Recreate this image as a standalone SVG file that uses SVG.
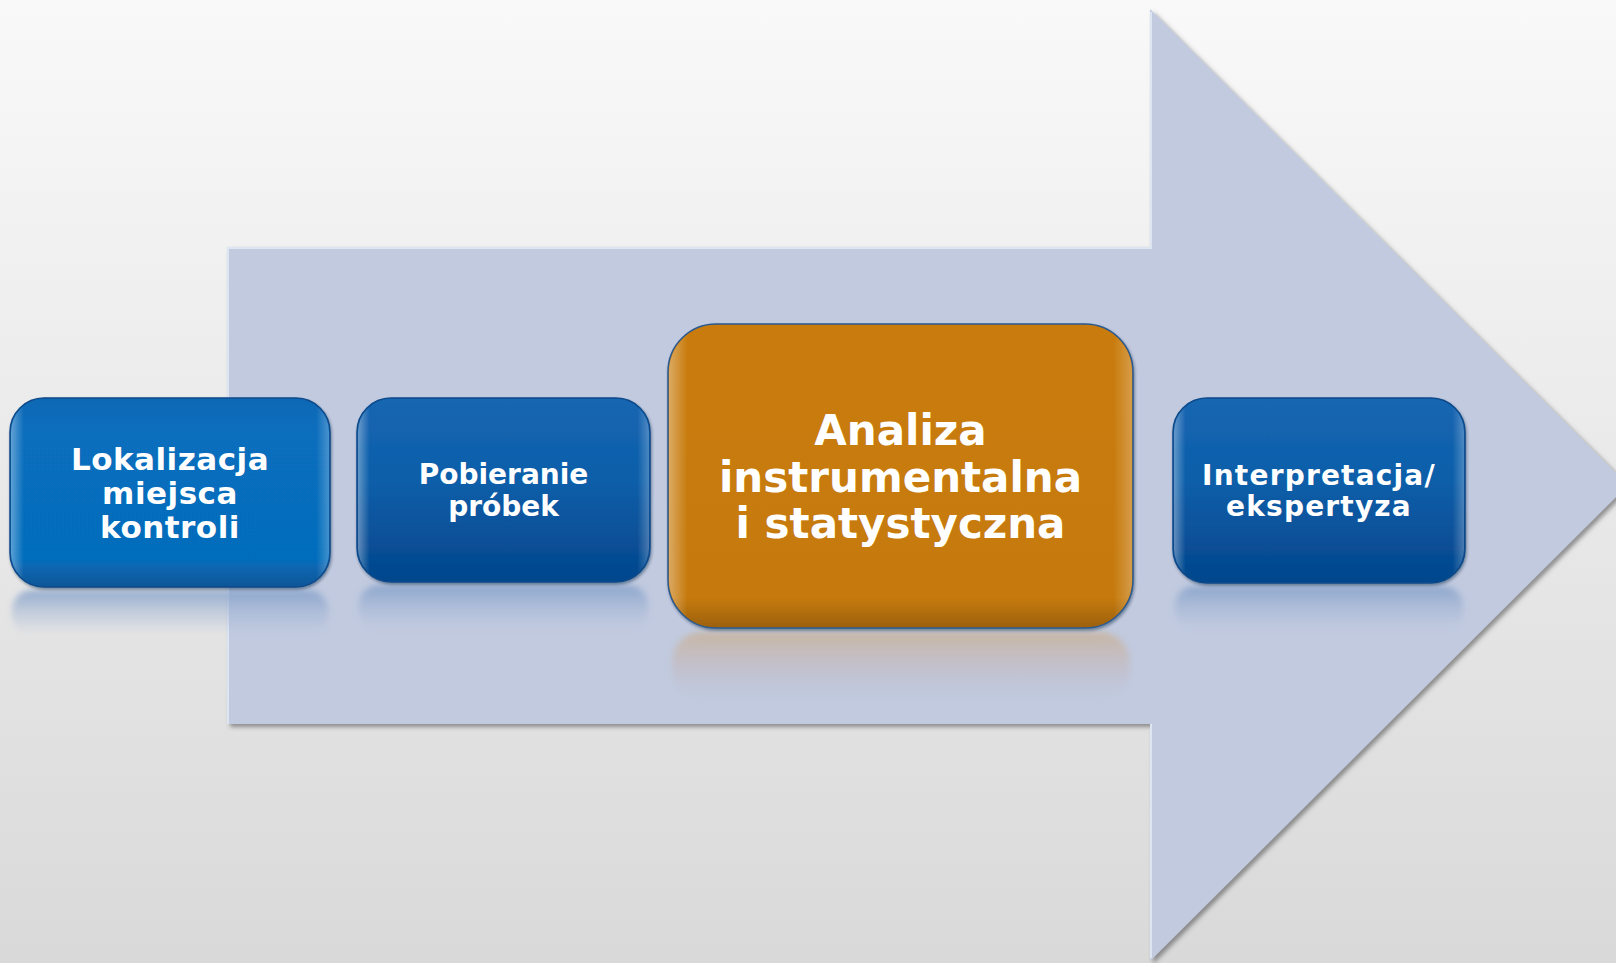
<svg xmlns="http://www.w3.org/2000/svg" width="1616" height="963" viewBox="0 0 1616 963">
  <defs>
    <linearGradient id="bg" x1="0" y1="0" x2="0" y2="1">
      <stop offset="0" stop-color="#f9f9f9"/>
      <stop offset="1" stop-color="#d9d9d9"/>
    </linearGradient>
    <linearGradient id="blueA" x1="0" y1="0" x2="0" y2="1">
      <stop offset="0" stop-color="#0a68b4"/>
      <stop offset="0.15" stop-color="#076ebd"/>
      <stop offset="0.85" stop-color="#066dbc"/>
      <stop offset="1" stop-color="#0a5698"/>
    </linearGradient>
    <linearGradient id="blueB" x1="0" y1="0" x2="0" y2="1">
      <stop offset="0" stop-color="#1466b2"/>
      <stop offset="0.45" stop-color="#0f5ea9"/>
      <stop offset="1" stop-color="#03468c"/>
    </linearGradient>
    <linearGradient id="orange" x1="0" y1="0" x2="0" y2="1">
      <stop offset="0" stop-color="#c97b0a"/>
      <stop offset="0.9" stop-color="#c67a08"/>
      <stop offset="1" stop-color="#9c6008"/>
    </linearGradient>
    <linearGradient id="sideHi" x1="0" y1="0" x2="1" y2="0">
      <stop offset="0" stop-color="#ffffff" stop-opacity="0.35"/>
      <stop offset="0.04" stop-color="#ffffff" stop-opacity="0"/>
      <stop offset="0.96" stop-color="#ffffff" stop-opacity="0"/>
      <stop offset="1" stop-color="#ffffff" stop-opacity="0.25"/>
    </linearGradient>
    <linearGradient id="reflBlue" x1="0" y1="0" x2="0" y2="1">
      <stop offset="0" stop-color="#7f9dc8" stop-opacity="0.8"/>
      <stop offset="1" stop-color="#a8b8d6" stop-opacity="0"/>
    </linearGradient>
    <linearGradient id="reflOrange" x1="0" y1="0" x2="0" y2="1">
      <stop offset="0" stop-color="#c8b6a4" stop-opacity="1"/>
      <stop offset="0.6" stop-color="#c2bfcc" stop-opacity="0.7"/>
      <stop offset="1" stop-color="#bfc5da" stop-opacity="0"/>
    </linearGradient>
    <filter id="arrowShadow" x="-5%" y="-5%" width="110%" height="110%">
      <feDropShadow dx="3" dy="3" stdDeviation="2" flood-color="#4a4a4a" flood-opacity="0.55"/>
    </filter>
    <filter id="boxShadow" x="-5%" y="-5%" width="110%" height="115%">
      <feDropShadow dx="1" dy="2" stdDeviation="1.5" flood-color="#102040" flood-opacity="0.45"/>
    </filter>
    <filter id="soft" x="-5%" y="-20%" width="110%" height="140%">
      <feGaussianBlur stdDeviation="3"/>
    </filter>
  </defs>
  <style>
    .lbl { font-family: "DejaVu Sans", Verdana, sans-serif; font-weight: bold; fill: #ffffff; text-anchor: middle; }
    .box { stroke: #0d4a8a; stroke-width: 1.5; }
  </style>

  <rect x="0" y="0" width="1616" height="963" fill="url(#bg)"/>

  <g id="arrow">
    <path d="M227,247 L1150,247 L1150,9 L1628,485 L1150,961 L1150,724 L227,724 Z" fill="#c1cadf" filter="url(#arrowShadow)"/>
    <path d="M228,724 L228,248 L1150,248 M1151,249 L1151,12 M1151,724 L1151,958" fill="none" stroke="#e4ebf8" stroke-width="2" opacity="0.8"/>
  </g>

  <g id="reflections">
    <rect x="12" y="590" width="316" height="46" rx="20" fill="url(#reflBlue)" filter="url(#soft)"/>
    <rect x="359" y="585" width="289" height="46" rx="20" fill="url(#reflBlue)" filter="url(#soft)"/>
    <rect x="672" y="632" width="458" height="70" rx="30" fill="url(#reflOrange)" filter="url(#soft)"/>
    <rect x="1175" y="586" width="288" height="46" rx="20" fill="url(#reflBlue)" filter="url(#soft)"/>
  </g>

  <g id="connectors"></g>

  <g id="node1">
    <rect class="box" x="10" y="398" width="320" height="189" rx="34" fill="url(#blueA)" filter="url(#boxShadow)"/>
    <rect x="11" y="399" width="318" height="187" rx="33" fill="url(#sideHi)"/>
    <text class="lbl" x="170" y="470" font-size="31" letter-spacing="0.5">Lokalizacja</text>
    <text class="lbl" x="170" y="504" font-size="31" letter-spacing="0.5">miejsca</text>
    <text class="lbl" x="170" y="538" font-size="31" letter-spacing="0.5">kontroli</text>
  </g>

  <g id="node2">
    <rect class="box" x="357" y="398" width="293" height="184" rx="34" fill="url(#blueB)" filter="url(#boxShadow)"/>
    <rect x="358" y="399" width="291" height="182" rx="33" fill="url(#sideHi)"/>
    <text class="lbl" x="503.5" y="484" font-size="28">Pobieranie</text>
    <text class="lbl" x="503.5" y="516" font-size="28">próbek</text>
  </g>

  <g id="node3">
    <rect x="668" y="324" width="465" height="304" rx="48" fill="url(#orange)" stroke="#2a5a90" stroke-width="1.5" filter="url(#boxShadow)"/>
    <rect x="669" y="325" width="463" height="302" rx="47" fill="url(#sideHi)"/>
    <text class="lbl" x="900.5" y="445" font-size="42">Analiza</text>
    <text class="lbl" x="900.5" y="492" font-size="42">instrumentalna</text>
    <text class="lbl" x="900.5" y="538" font-size="42">i statystyczna</text>
  </g>

  <g id="node4">
    <rect class="box" x="1173" y="398" width="292" height="185" rx="34" fill="url(#blueB)" filter="url(#boxShadow)"/>
    <rect x="1174" y="399" width="290" height="183" rx="33" fill="url(#sideHi)"/>
    <text class="lbl" x="1319" y="485" font-size="28" letter-spacing="1.2">Interpretacja/</text>
    <text class="lbl" x="1319" y="516" font-size="28" letter-spacing="1.2">ekspertyza</text>
  </g>
</svg>
